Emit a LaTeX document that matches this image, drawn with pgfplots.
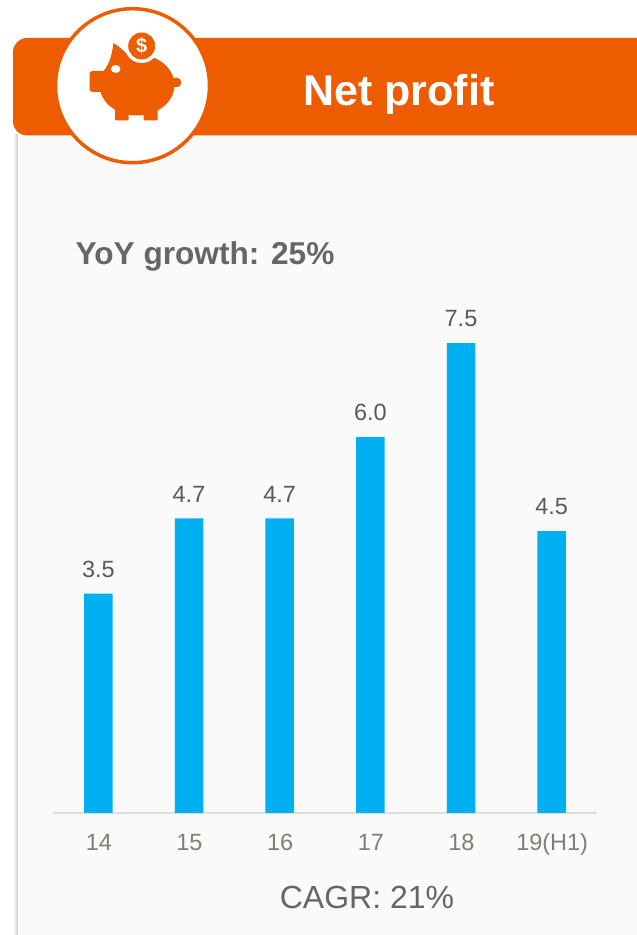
\documentclass[border=0pt]{standalone}
\usepackage{pgfplots}
\pgfplotsset{compat=1.18}
\usepackage{fontspec}
\setmainfont{Liberation Sans}
\definecolor{brandorange}{HTML}{ED5C00}
\definecolor{barblue}{HTML}{00B0F0}
\definecolor{panelbg}{HTML}{FAFAFA}
\definecolor{baseline}{HTML}{DEDEDE}
\definecolor{ticktext}{HTML}{7F7F73}
\definecolor{valuetext}{HTML}{595959}
\definecolor{headtext}{HTML}{666666}
\pgfplotstableread{
idx profit
0 3.5
1 4.7
2 4.7
3 6.0
4 7.5
5 4.5
}\profittable
\begin{document}
\begin{tikzpicture}
\useasboundingbox (0,0) rectangle (637pt,935pt);
\begin{scope}[x=1pt,y=-1pt,yshift=935pt]
  % card with soft left edge
  \fill[left color=white,right color=black!22] (13,135) rectangle (18,935);
  \fill[panelbg] (18,135) rectangle (637,935);
  % header band
  \fill[brandorange,rounded corners=14pt] (13,38) rectangle (660,135.5);
  % round badge
  \fill[white] (132.5,85.7) circle (76);
  \draw[brandorange,line width=3.5pt] (132.5,85.7) circle (77);
  % piggy bank
  \begin{scope}[brandorange]
    \fill (137,85) ellipse [x radius=37.5,y radius=30.5];
    \fill[rounded corners=3pt] (89.5,71) rectangle (106,92);
    \fill (113.5,43) .. controls (120,47) and (125,52) .. (133,60) -- (106,68) .. controls (111,60) and (112.5,50) .. cycle;
    \fill[rounded corners=3.5pt] (168,78) rectangle (181,87);
    \fill[rounded corners=1pt] (115,105) rectangle (128.5,120.5);
    \fill[rounded corners=1pt] (143.5,105) rectangle (157.5,120.5);
    \fill[white] (141.7,46) circle (17);
    \fill (141.7,46) circle (13.5);
    \fill[white] (115.7,69) ellipse [x radius=4.7,y radius=4];
    \node[white,font=\fontsize{20}{20}\selectfont\bfseries,inner sep=0pt] at (141.7,46) {\$};
  \end{scope}
  % headings
  \node[white,font=\fontsize{43}{43}\selectfont\bfseries,anchor=base,inner sep=0pt] at (399,105.5) {Net profit};
  \node[headtext,font=\fontsize{31.6}{32}\selectfont\bfseries,anchor=base west,inner sep=0pt] at (75.5,265) {YoY growth: 25\%};
  \node[headtext,font=\fontsize{32}{32}\selectfont,anchor=base,inner sep=0pt] at (367,909) {CAGR: 21\%};
\end{scope}
\begin{axis}[
  at={(53pt,122pt)},anchor=south west,
  scale only axis,width=544pt,height=501.33pt,
  xmin=-0.5,xmax=5.5,ymin=0,ymax=8,
  axis y line=none,
  axis x line*=bottom,
  x axis line style={draw=baseline,line width=2.2pt,-},
  xtick={0,1,2,3,4,5},
  xticklabels={14,15,16,17,18,19(H1)},
  tick style={draw=none},
  xticklabel style={font=\fontsize{23.5}{24}\selectfont,text=ticktext,anchor=base,yshift=-38pt,xshift=0.5pt},
  /pgf/number format/assume math mode=true,
  ytick=\empty,
  clip=false,
]
\addplot[ybar,bar width=28.5pt,fill=barblue,draw=none,
  nodes near coords,
  nodes near coords style={font=\fontsize{23.5}{24}\selectfont,text=valuetext,yshift=12.5pt,
    /pgf/number format/.cd,fixed,fixed zerofill,precision=1,assume math mode=true},
] table[x=idx,y=profit] {\profittable};
\end{axis}
\end{tikzpicture}
\end{document}
